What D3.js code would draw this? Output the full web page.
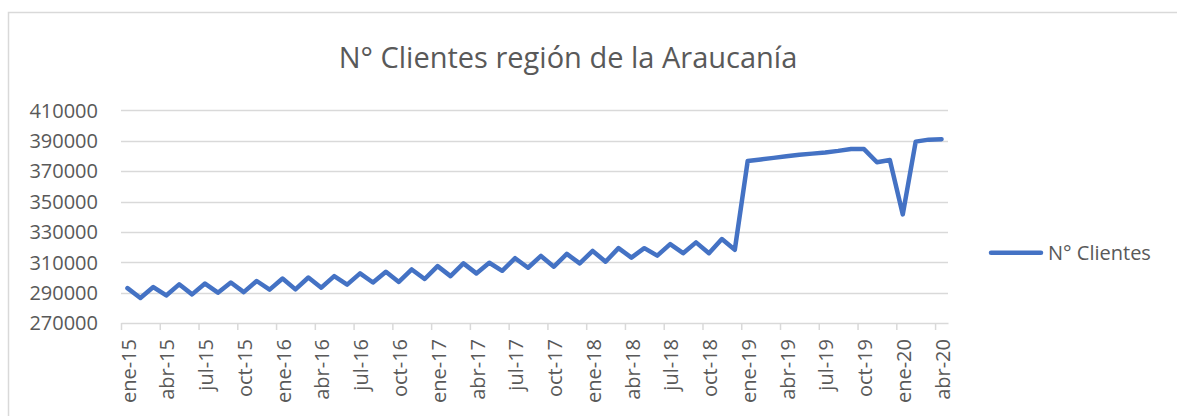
<!DOCTYPE html>
<head>
  <meta charset="UTF-8">
  <title>N° Clientes</title>
  <style>
  body, html, svg{
    padding: 0;
    margin: 0;
  }
  body{
    background: #fff;
  }
  text{
    font-family: "Open Sans", sans-serif;
    fill: #595959;
  }
  </style>
</head>
<body>
  <script src="https://cdn.jsdelivr.net/npm/d3@7"></script>
  <script type="text/javascript">
  var width = 1177;
  var height = 416;

  // meses ene-15 .. abr-20
  var meses = ['ene', 'feb', 'mar', 'abr', 'may', 'jun', 'jul', 'ago', 'sep', 'oct', 'nov', 'dic'];
  var anios = ['15', '16', '17', '18', '19', '20'];
  var categorias = [];
  anios.forEach(function(a){
    meses.forEach(function(m){
      categorias.push(m + '-' + a);
    });
  });
  categorias = categorias.slice(0, 64);

  var clientes = [
    293000, 286500, 293700, 288200, 295500, 288900, 296000, 290000, 296700, 290400, 297700, 292000,
    299300, 292200, 300000, 293300, 300900, 295300, 302700, 296700, 303800, 297100, 305300, 299000,
    307500, 300900, 309300, 302700, 309700, 304400, 312700, 306400, 314200, 307100, 315500, 309300,
    317500, 310400, 319300, 313100, 319300, 314400, 322000, 316000, 323100, 316000, 325300, 318200,
    376700, 377700, 378700, 379800, 380800, 381500, 382300, 383300, 384600, 384500, 375800, 377300,
    341500, 389400, 390700, 391000
  ];

  var yTicks = [270000, 290000, 310000, 330000, 350000, 370000, 390000, 410000];
  var serie = 'N° Clientes';
  var titulo = 'N° Clientes región de la Araucanía';

  var svg = d3.select('body')
    .append('svg')
    .attr('width', width)
    .attr('height', height);

  // borde del área del gráfico
  svg.append('rect')
    .attr('x', 8.5)
    .attr('y', 12.5)
    .attr('width', 1300)
    .attr('height', 600)
    .attr('fill', 'none')
    .attr('stroke', '#d9d9d9')
    .attr('stroke-width', 1.5);

  var x = d3.scaleLinear()
    .domain([0, categorias.length])
    .range([121, 948]);

  var y = d3.scaleLinear()
    .domain([270000, 410000])
    .range([323.1, 110.3]);

  // grilla
  svg.append('g')
    .selectAll('line')
    .data(yTicks.slice(1))
    .enter()
    .append('line')
    .attr('x1', x(0))
    .attr('x2', x(categorias.length))
    .attr('y1', function(d){ return Math.round(y(d)) + 0.5; })
    .attr('y2', function(d){ return Math.round(y(d)) + 0.5; })
    .attr('stroke', '#d9d9d9')
    .attr('stroke-width', 1.5);

  // eje y (solo etiquetas)
  svg.append('g')
    .selectAll('text')
    .data(yTicks)
    .enter()
    .append('text')
    .attr('x', 98)
    .attr('y', function(d){ return y(d); })
    .attr('dy', '0.36em')
    .attr('text-anchor', 'end')
    .style('font-size', '20px')
    .text(function(d){ return d; });

  // eje x
  var xAxis = d3.axisBottom(x)
    .tickValues(d3.range(0, categorias.length, 3))
    .tickSize(7)
    .tickSizeOuter(0)
    .tickFormat('');

  var gx = svg.append('g')
    .attr('transform', 'translate(0,' + Math.round(y(270000)) + ')')
    .call(xAxis);
  gx.selectAll('path, line')
    .attr('stroke', '#d9d9d9')
    .attr('stroke-width', 1.5);

  svg.append('g')
    .selectAll('text')
    .data(d3.range(0, categorias.length, 3))
    .enter()
    .append('text')
    .attr('transform', function(i){
      return 'translate(' + (x(i + 0.5) + 1) + ',339) rotate(-90)';
    })
    .attr('dy', '0.36em')
    .attr('text-anchor', 'end')
    .style('font-size', '20px')
    .text(function(i){ return categorias[i]; });

  // línea
  var line = d3.line()
    .x(function(d, i){ return x(i + 0.5); })
    .y(function(d){ return y(d); });

  svg.append('path')
    .datum(clientes)
    .attr('d', line)
    .attr('fill', 'none')
    .attr('stroke', '#4472c4')
    .attr('stroke-width', 4.5)
    .attr('stroke-linejoin', 'round')
    .attr('stroke-linecap', 'round');

  // título
  svg.append('text')
    .attr('x', 568)
    .attr('y', 67.5)
    .attr('text-anchor', 'middle')
    .style('font-size', '29px')
    .text(titulo);

  // leyenda
  svg.append('line')
    .attr('x1', 991)
    .attr('x2', 1041)
    .attr('y1', 252.7)
    .attr('y2', 252.7)
    .attr('stroke', '#4472c4')
    .attr('stroke-width', 4.5)
    .attr('stroke-linecap', 'round');

  svg.append('text')
    .attr('x', 1048)
    .attr('y', 259.5)
    .style('font-size', '20px')
    .text(serie);

  </script>
</body>
</html>
